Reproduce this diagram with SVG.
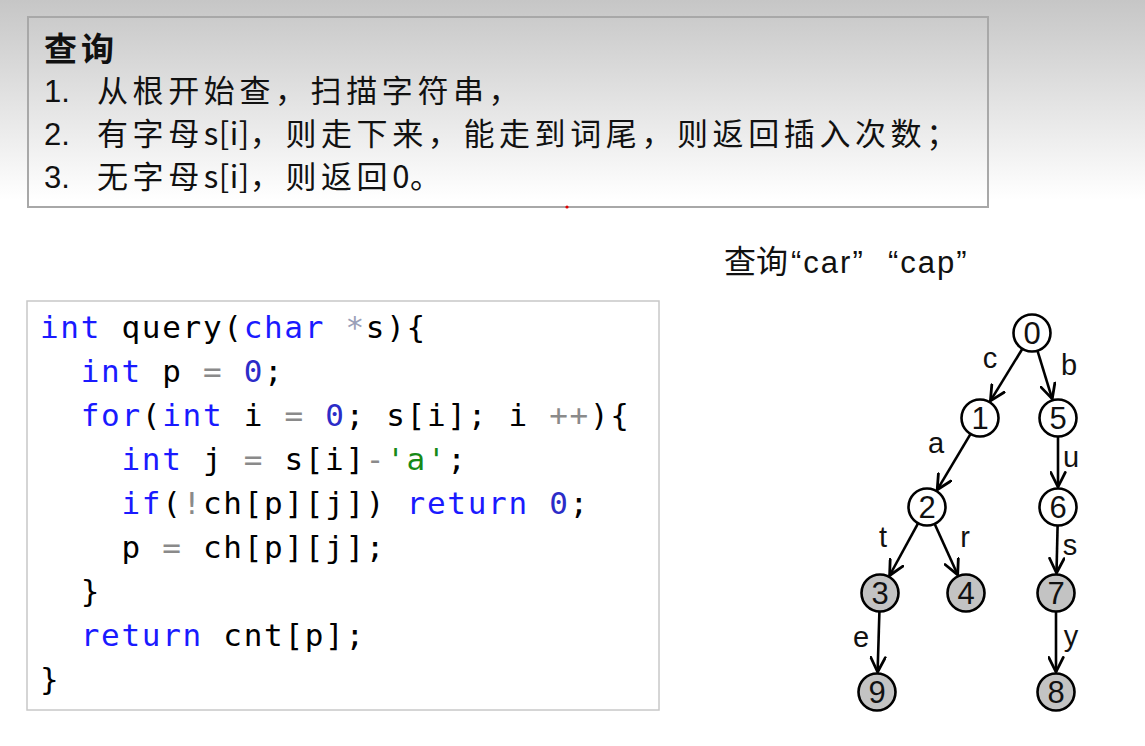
<svg xmlns="http://www.w3.org/2000/svg" width="1145" height="746" viewBox="0 0 1145 746">
<style>
.cn{font-family:"Noto Sans CJK SC","Liberation Sans",sans-serif;font-size:31px;fill:#111;letter-spacing:4.6px}
.lt{letter-spacing:0.5px}
.num{font-family:"Liberation Sans","Noto Sans CJK SC",sans-serif;font-size:31px;fill:#111}
.code{font-family:"DejaVu Sans Mono","Liberation Mono",monospace;font-size:31px;fill:#000;letter-spacing:1.7px}
.kw{fill:#1a1aff}.n0{fill:#2c2cc8}.op{fill:#8a8a8a}.st{fill:#178a17}.pt{fill:#9aa0b8}
.q{font-family:"Liberation Sans",sans-serif;font-size:31px;fill:#111;letter-spacing:2px}
.node circle{stroke:#000;stroke-width:2.6}
.w circle{fill:#fff}.g circle{fill:#c3c3c3}
.node text{font-family:"Liberation Sans",sans-serif;font-size:31px;text-anchor:middle;fill:#111}
.edge{stroke:#000;stroke-width:2.6;fill:none;marker-end:url(#ah)}
.lbl{font-family:"Liberation Sans",sans-serif;font-size:29px;text-anchor:middle;fill:#111}
</style>
<defs>
<linearGradient id="bg" gradientUnits="userSpaceOnUse" x1="0" y1="0" x2="0" y2="200">
<stop offset="0" stop-color="#c6c6c6"/>
<stop offset="1" stop-color="#ffffff"/>
</linearGradient>
<marker id="ah" viewBox="0 0 14 14" refX="13" refY="7" markerWidth="17" markerHeight="17" markerUnits="userSpaceOnUse" orient="auto">
<path d="M1,1 L13,7 L1,13" fill="none" stroke="#000" stroke-width="2.3" stroke-linecap="round" stroke-linejoin="round"/>
</marker>
</defs>
<rect x="0" y="0" width="1145" height="746" fill="#fff"/>
<rect x="0" y="0" width="1145" height="210" fill="url(#bg)"/>

<g id="info-box">
<rect x="28" y="17" width="960" height="190" fill="none" stroke="#a8a8a8" stroke-width="2"/>
<text x="44" y="61" class="cn" style="font-weight:bold;font-size:33px;letter-spacing:4px">查询</text>
<text x="44" y="102" class="num">1.</text>
<text x="97" y="102" class="cn">从根开始查，扫描字符串，</text>
<text x="44" y="145" class="num">2.</text>
<text x="97" y="145" class="cn">有字母<tspan class="lt">s[i]</tspan>，则走下来，能走到词尾，则返回插入次数；</text>
<text x="44" y="188" class="num">3.</text>
<text x="97" y="188" class="cn">无字母<tspan class="lt">s[i]</tspan>，则返回<tspan class="lt">0</tspan>。</text>
</g>
<circle cx="567" cy="207" r="1.6" fill="#e00000"/>

<g id="title">
<text x="724" y="273" style="font-family:'Noto Sans CJK SC',sans-serif;font-size:32px;fill:#111">查询</text>
<text x="791" y="273" class="q">“car”</text>
<text x="888" y="273" class="q">“cap”</text>
</g>

<g id="code-box">
<rect x="27" y="301" width="632" height="409" fill="#fff" stroke="#c8c8c8" stroke-width="1.5"/>
<text x="40" y="338" class="code" xml:space="preserve"><tspan class="kw">int</tspan> query(<tspan class="kw">char</tspan> <tspan class="pt">*</tspan>s){</text>
<text x="40" y="382" class="code" xml:space="preserve">  <tspan class="kw">int</tspan> p <tspan class="op">=</tspan> <tspan class="n0">0</tspan>;</text>
<text x="40" y="426" class="code" xml:space="preserve">  <tspan class="kw">for</tspan>(<tspan class="kw">int</tspan> i <tspan class="op">=</tspan> <tspan class="n0">0</tspan>; s[i]; i <tspan class="op">++</tspan>){</text>
<text x="40" y="470" class="code" xml:space="preserve">    <tspan class="kw">int</tspan> j <tspan class="op">=</tspan> s[i]<tspan class="op">-</tspan><tspan class="st">'a'</tspan>;</text>
<text x="40" y="514" class="code" xml:space="preserve">    <tspan class="kw">if</tspan>(<tspan class="op">!</tspan>ch[p][j]) <tspan class="kw">return</tspan> <tspan class="n0">0</tspan>;</text>
<text x="40" y="558" class="code" xml:space="preserve">    p <tspan class="op">=</tspan> ch[p][j];</text>
<text x="40" y="602" class="code" xml:space="preserve">  }</text>
<text x="40" y="646" class="code" xml:space="preserve">  <tspan class="kw">return</tspan> cnt[p];</text>
<text x="40" y="690" class="code" xml:space="preserve">}</text>
</g>

<g id="connectors">
<line class="edge" x1="1022.1" y1="349.2" x2="990.4" y2="400.9"/>
<line class="edge" x1="1037.6" y1="351.2" x2="1052.2" y2="398.9"/>
<line class="edge" x1="970.3" y1="434.3" x2="937.2" y2="489.8"/>
<line class="edge" x1="1058" y1="437" x2="1058" y2="487"/>
<line class="edge" x1="917.9" y1="523.7" x2="889.6" y2="575.5"/>
<line class="edge" x1="934.8" y1="524.3" x2="957.7" y2="574.8"/>
<line class="edge" x1="1057.6" y1="526" x2="1056.5" y2="573"/>
<line class="edge" x1="879.4" y1="612" x2="877.6" y2="672"/>
<line class="edge" x1="1056" y1="612" x2="1056" y2="672"/>
<text class="lbl" x="990" y="368">c</text>
<text class="lbl" x="1069" y="375">b</text>
<text class="lbl" x="936" y="453">a</text>
<text class="lbl" x="1071" y="467">u</text>
<text class="lbl" x="883" y="547">t</text>
<text class="lbl" x="965" y="547">r</text>
<text class="lbl" x="1070" y="555">s</text>
<text class="lbl" x="861" y="647">e</text>
<text class="lbl" x="1071" y="646">y</text>
</g>

<g id="node-0" class="node w"><circle cx="1032" cy="333" r="18.5"/><text x="1032" y="344">0</text></g>
<g id="node-1" class="node w"><circle cx="980" cy="418" r="18.5"/><text x="980" y="429">1</text></g>
<g id="node-5" class="node w"><circle cx="1058" cy="418" r="18.5"/><text x="1058" y="429">5</text></g>
<g id="node-2" class="node w"><circle cx="927" cy="507" r="18.5"/><text x="927" y="518">2</text></g>
<g id="node-6" class="node w"><circle cx="1058" cy="507" r="18.5"/><text x="1058" y="518">6</text></g>
<g id="node-3" class="node g"><circle cx="880" cy="593" r="18.5"/><text x="880" y="604">3</text></g>
<g id="node-4" class="node g"><circle cx="966" cy="593" r="18.5"/><text x="966" y="604">4</text></g>
<g id="node-7" class="node g"><circle cx="1056" cy="593" r="18.5"/><text x="1056" y="604">7</text></g>
<g id="node-9" class="node g"><circle cx="877" cy="692" r="18.5"/><text x="877" y="703">9</text></g>
<g id="node-8" class="node g"><circle cx="1056" cy="692" r="18.5"/><text x="1056" y="703">8</text></g>
</svg>
